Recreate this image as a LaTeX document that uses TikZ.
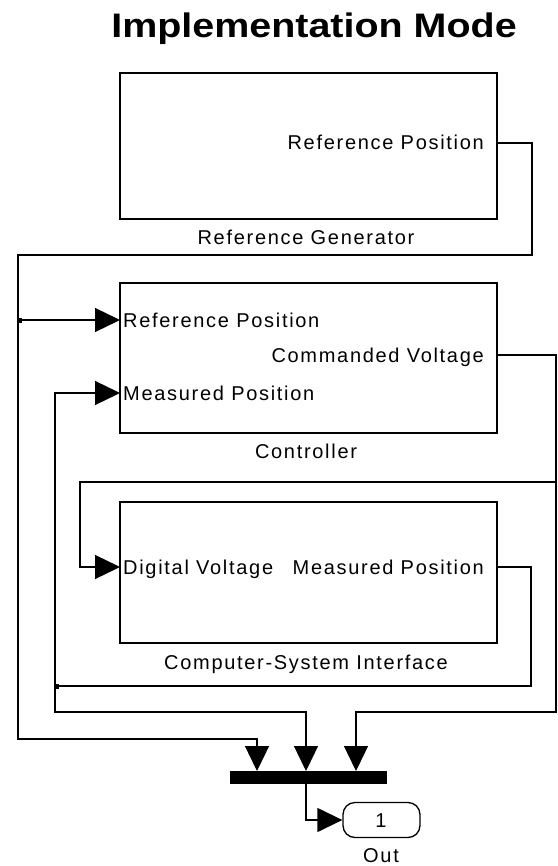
\documentclass[tikz,border=0pt]{standalone}
\usepackage{fontspec}
\setmainfont{Liberation Sans}
\newfontfamily\portfont[LetterSpace=8.5]{Liberation Sans}
\newfontfamily\titlefont[FakeStretch=1.16]{Liberation Sans}
\usetikzlibrary{arrows.meta}

\begin{document}
\begin{tikzpicture}[x=1pt,y=-1pt,
  wire/.style={line width=1.3pt},
  sig/.style={wire,-{Triangle[length=25pt,width=24pt]}},
  block/.style={draw,line width=1.5pt,minimum width=377pt,inner sep=0pt},
  lbl/.style={font=\portfont\fontsize{20}{24}\selectfont,inner sep=0pt},
  junction/.style={fill=black,minimum size=5pt,inner sep=0pt}]

  % canvas
  \path[use as bounding box,fill=white] (0,0) rectangle (557,866);

  % title
  \node[font=\titlefont\bfseries\fontsize{34}{40}\selectfont,anchor=base,inner sep=0pt]
    (title) at (314,38) {Implementation Mode};

  % subsystem blocks
  \node[block,minimum height=146pt] (rg)  at (308.5,146)   {};
  \node[block,minimum height=150pt] (ctl) at (308.5,358)   {};
  \node[block,minimum height=141pt] (csi) at (308.5,572.5) {};

  % block names
  \node[lbl,anchor=base] (rgname)  at (306,245) {Reference Generator};
  \node[lbl,anchor=base] (ctlname) at (306,458) {Controller};
  \node[lbl,anchor=base] (csiname) at (306,669) {Computer-System Interface};

  % port labels
  \node[lbl,anchor=base east] (rgoutlbl)  at (484,150) {Reference Position};
  \node[lbl,anchor=base west] (ctlreflbl) at (123,327) {Reference Position};
  \node[lbl,anchor=base west] (ctlmeaslbl) at (123,400) {Measured Position};
  \node[lbl,anchor=base east] (ctlcmdlbl) at (484,362) {Commanded Voltage};
  \node[lbl,anchor=base west] (csiinlbl)  at (123,574) {Digital Voltage};
  \node[lbl,anchor=base east] (csioutlbl) at (484,574) {Measured Position};

  % port coordinates
  \coordinate (rg-out)   at (497,143);
  \coordinate (ctl-ref)  at (120,320);
  \coordinate (ctl-meas) at (120,393);
  \coordinate (ctl-cmd)  at (497,355);
  \coordinate (csi-in)   at (120,567);
  \coordinate (csi-out)  at (497,567);

  % mux bar and outport
  \node[fill=black,minimum width=157pt,minimum height=13pt,inner sep=0pt] (bar) at (308.5,777.5) {};
  \coordinate (mux1) at (257,771);
  \coordinate (mux2) at (306,771);
  \coordinate (mux3) at (356,771);
  \coordinate (muxout) at (306,784);
  \node[draw,line width=1.3pt,rounded corners=12pt,minimum width=77pt,minimum height=35pt,inner sep=0pt]
    (out) at (381.5,820) {};
  \node[lbl,anchor=base] (outnum) at (381,827) {1};
  \node[lbl,anchor=base] (outname) at (381,862) {Out};

  % branch points
  \node[junction] (j1) at (19,320) {};
  \node[junction] (j2) at (56,686) {};
  \coordinate (j3) at (556,482);

  % reference position
  \draw[sig] (rg-out) -- (532,143) -- (532,255) -- (18,255) -- (18,739) -- (257,739) -- (mux1);
  \draw[sig] (18,320) -- (ctl-ref);

  % commanded voltage
  \draw[sig] (ctl-cmd) -- (556,355) -- (556,712) -- (356,712) -- (mux3);
  \draw[sig] (j3) -- (80,482) -- (80,567) -- (csi-in);

  % measured position
  \draw[wire] (csi-out) -- (531,567) -- (531,686) -- (55,686);
  \draw[sig] (55,686) -- (55,393) -- (ctl-meas);
  \draw[sig] (55,686) -- (55,712) -- (306,712) -- (mux2);

  % mux output
  \draw[sig] (muxout) -- (306,820) -- (out.west);
\end{tikzpicture}
\end{document}
